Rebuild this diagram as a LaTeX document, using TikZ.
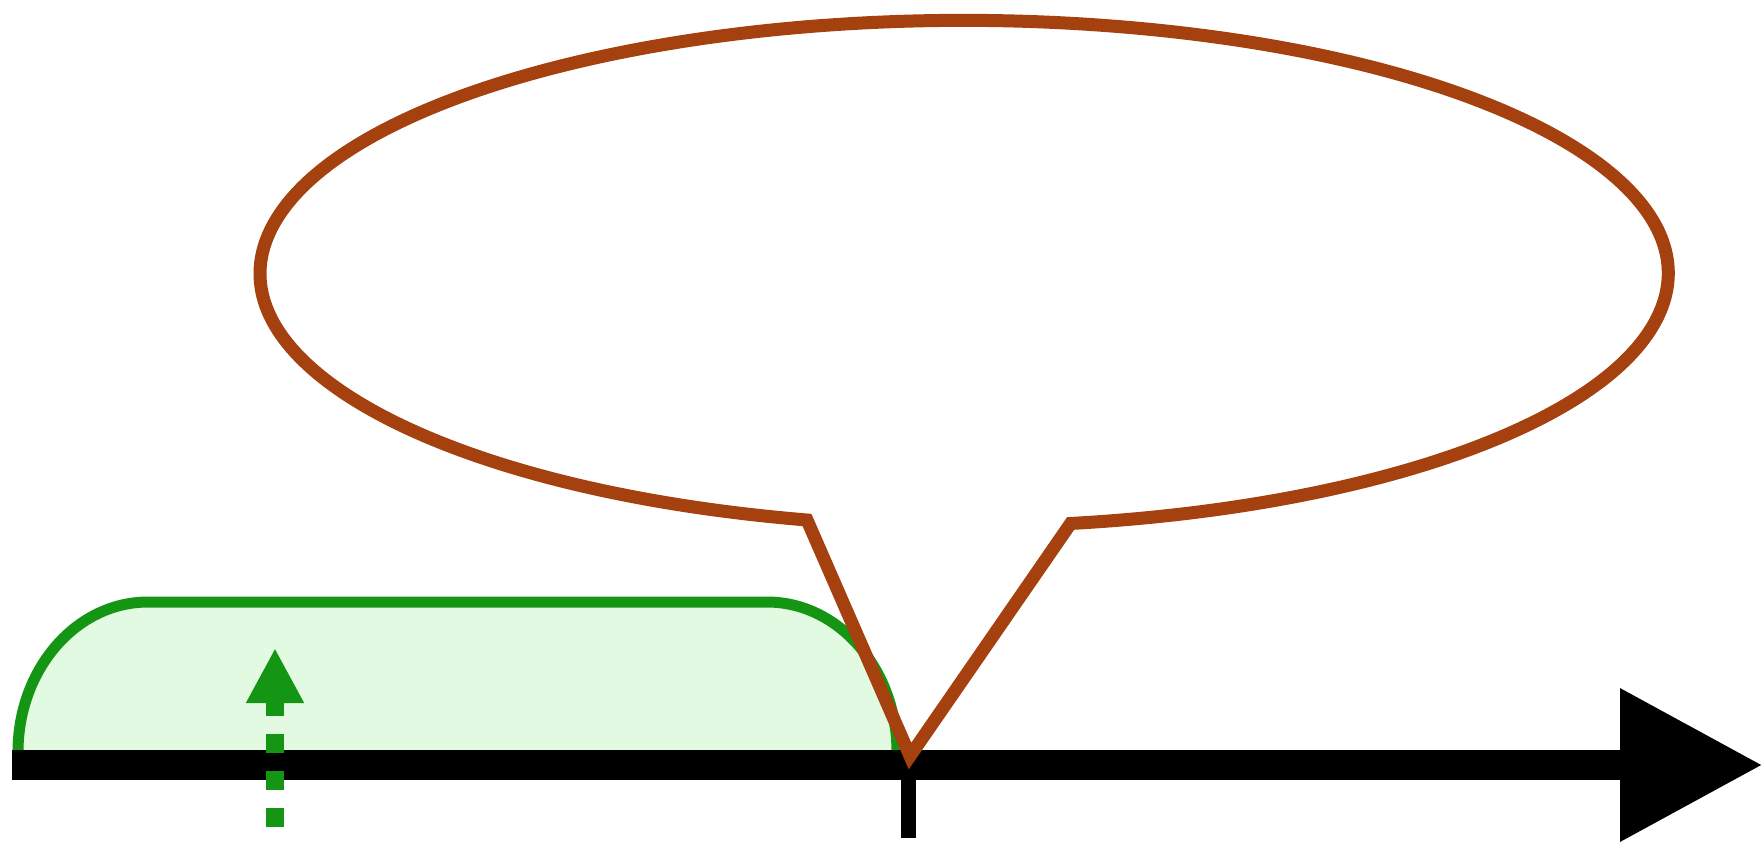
\documentclass[tikz,border=0pt]{standalone}
\usetikzlibrary{arrows.meta}
\definecolor{callbrown}{RGB}{165,65,15}
\definecolor{zonegreen}{RGB}{20,150,20}
\definecolor{zonefill}{RGB}{226,250,226}

\begin{document}
\begin{tikzpicture}[
  axis/.style={line width=3mm,-{Triangle[length=14.3mm,width=14.5mm]}},
  tickmark/.style={line width=1.5mm},
  zone/.style={draw=zonegreen,fill=zonefill,line width=1.1mm},
  bubble/.style={draw=callbrown,line width=1.3mm,line join=miter},
  push/.style={zonegreen,line width=1.8mm,dash pattern=on 1.9mm off 1.8mm,
               -{Triangle[length=5.5mm,width=5.4mm]}}
]
\useasboundingbox (0,0) rectangle (17.64,8.42);
\coordinate (origin) at (0.12,0.77);
\coordinate (far) at (17.63,0.77);
\coordinate (now) at (9.08,0.77);
\coordinate (nowlow) at (9.08,0.04);
\coordinate (pin) at (9.10,0.86);
\coordinate (pushlow) at (2.75,0.15);
\coordinate (pushtop) at (2.75,1.94);
% Zone
\draw[zone] (0.18,0.77) -- (0.18,0.90)
  arc[start angle=180,end angle=90,x radius=1.3,y radius=1.5]
  -- (7.67,2.40)
  arc[start angle=90,end angle=0,x radius=1.3,y radius=1.5]
  -- (8.97,0.77) -- cycle;
% Axis
\draw[axis] (origin) -- (far);
\draw[tickmark] (now) -- (nowlow);
% Bubble
\draw[bubble] (pin) -- (8.07,3.22)
  arc[start angle=257.1,end angle=-81.3,x radius=7.04,y radius=2.53]
  -- cycle;
% Arrow
\draw[push] (pushlow) -- (pushtop);
\end{tikzpicture}
\end{document}
